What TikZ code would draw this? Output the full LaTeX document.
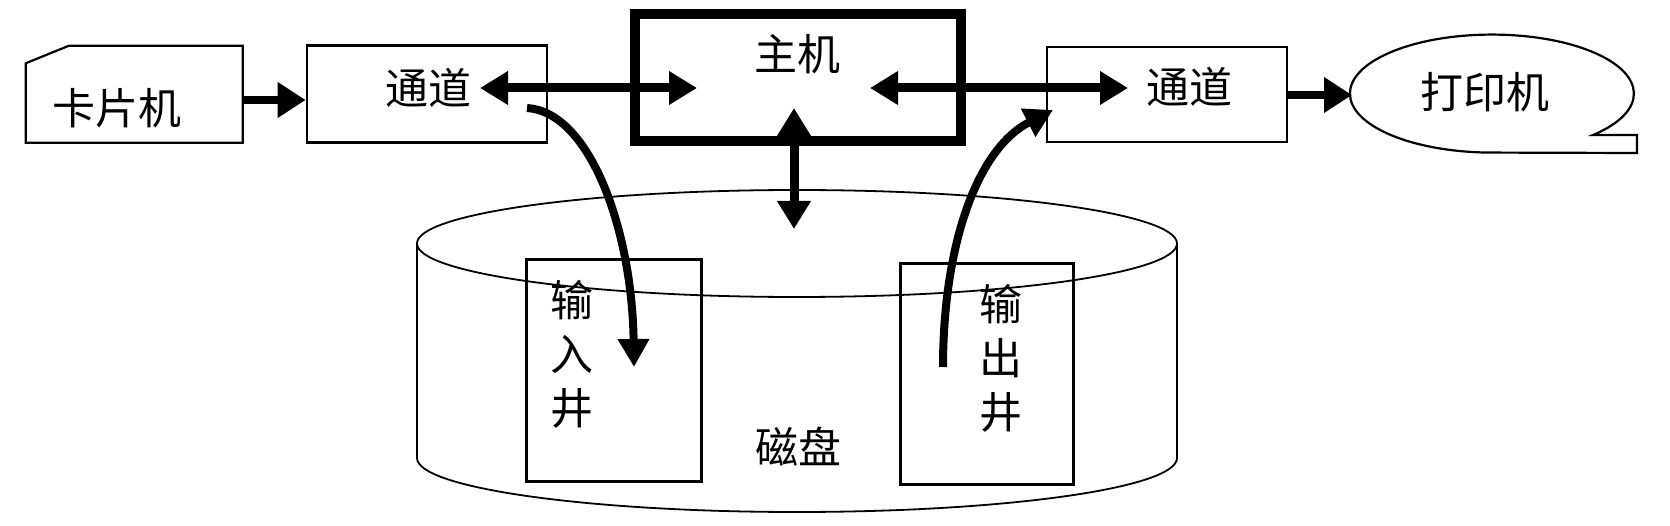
\documentclass[tikz,border=0pt]{standalone}
\usepackage{fontspec}
\newfontfamily\cjk{Noto Sans CJK SC}
\usetikzlibrary{arrows.meta}
\begin{document}
\begin{tikzpicture}[x=1pt,y=-1pt,
  txt/.style={inner sep=0pt, font=\cjk\fontsize{43}{54}\selectfont, align=center},
  box/.style={draw, line width=2.6pt, inner sep=0pt},
  wellbox/.style={draw, line width=3pt, inner sep=0pt},
  thin/.style={line width=1.8pt},
  arr/.style={line width=8pt, -{Triangle[length=28pt,width=34pt]}},
  darr/.style={line width=9pt, {Triangle[length=28pt,width=32pt]}-{Triangle[length=28pt,width=32pt]}},
  curvearr/.style={line width=8pt, -{Triangle[length=28pt,width=30pt]}},
  curveline/.style={line width=8pt}
]
\useasboundingbox (0,0) rectangle (1670,526);

% disk (cylinder)
\coordinate (diskc) at (797,243.5);
\draw[thin] (417,243.5) -- (417,458) arc[start angle=180, end angle=0, x radius=380, y radius=54] -- (1177,243.5);
\draw[thin] (diskc) ellipse[x radius=380, y radius=53.5];
\node[txt] (disk) at (798,447) {磁盘};

% wells
\node[wellbox, minimum width=175pt, minimum height=221pt] (inwell) at (613.5,370.5) {};
\node[txt] (intext) at (572,354) {输\\入\\井};
\node[wellbox, minimum width=173pt, minimum height=220pt] (outwell) at (986.5,374) {};
\node[txt] (outtext) at (1001,358) {输\\出\\井};

% card reader
\draw[line width=2.2pt] (25.7,63.3) -- (69,45.7) -- (242.7,45.7) -- (242.7,142.7) -- (25.7,142.7) -- cycle;
\node[txt] (card) at (117,108) {卡片机};
\coordinate (cardR) at (242.7,100);

% channel 1
\node[box, minimum width=240pt, minimum height=97pt] (ch1) at (427,94.3) {};
\node[txt] (ch1t) at (428,88) {通道};

% host
\node[draw, line width=10pt, inner sep=0pt, minimum width=326pt, minimum height=127pt] (host) at (797.5,78) {};
\node[txt] (hostt) at (797,54) {主机};

% channel 2
\node[box, minimum width=240pt, minimum height=95pt] (ch2) at (1167,94.5) {};
\node[txt] (ch2t) at (1189,87) {通道};

% printer
\draw[line width=2.2pt] (1593,135) arc[start angle=44.6, end angle=-270, x radius=142, y radius=59]
  -- (1637,153) -- (1637,135) -- cycle;
\node[txt] (printer) at (1485,92) {打印机};
\coordinate (prL) at (1352,95);

% arrow end points
\coordinate (a1) at (480,88);
\coordinate (a2) at (697,88);
\coordinate (b1) at (870,88);
\coordinate (b2) at (1128,88);
\coordinate (c1) at (794,108);
\coordinate (c2) at (794,229);
\coordinate (d1) at (527,108);
\coordinate (d2) at (634,367);
\coordinate (e1) at (943,367);
\coordinate (e2) at (1053,110);

% connectors
\draw[arr] (cardR) -- (cardR -| ch1.west);
\draw[darr] (a1) -- (a2);
\draw[darr] (b1) -- (b2);
\draw[darr] (c1) -- (c2);
\draw[arr] (prL -| ch2.east) -- (prL);
\draw[curvearr] (d1) .. controls (590,112) and (632,230) .. (d2);
\draw[curvearr] (e1) .. controls (943,250) and (975,150) .. (e2);
\end{tikzpicture}
\end{document}
